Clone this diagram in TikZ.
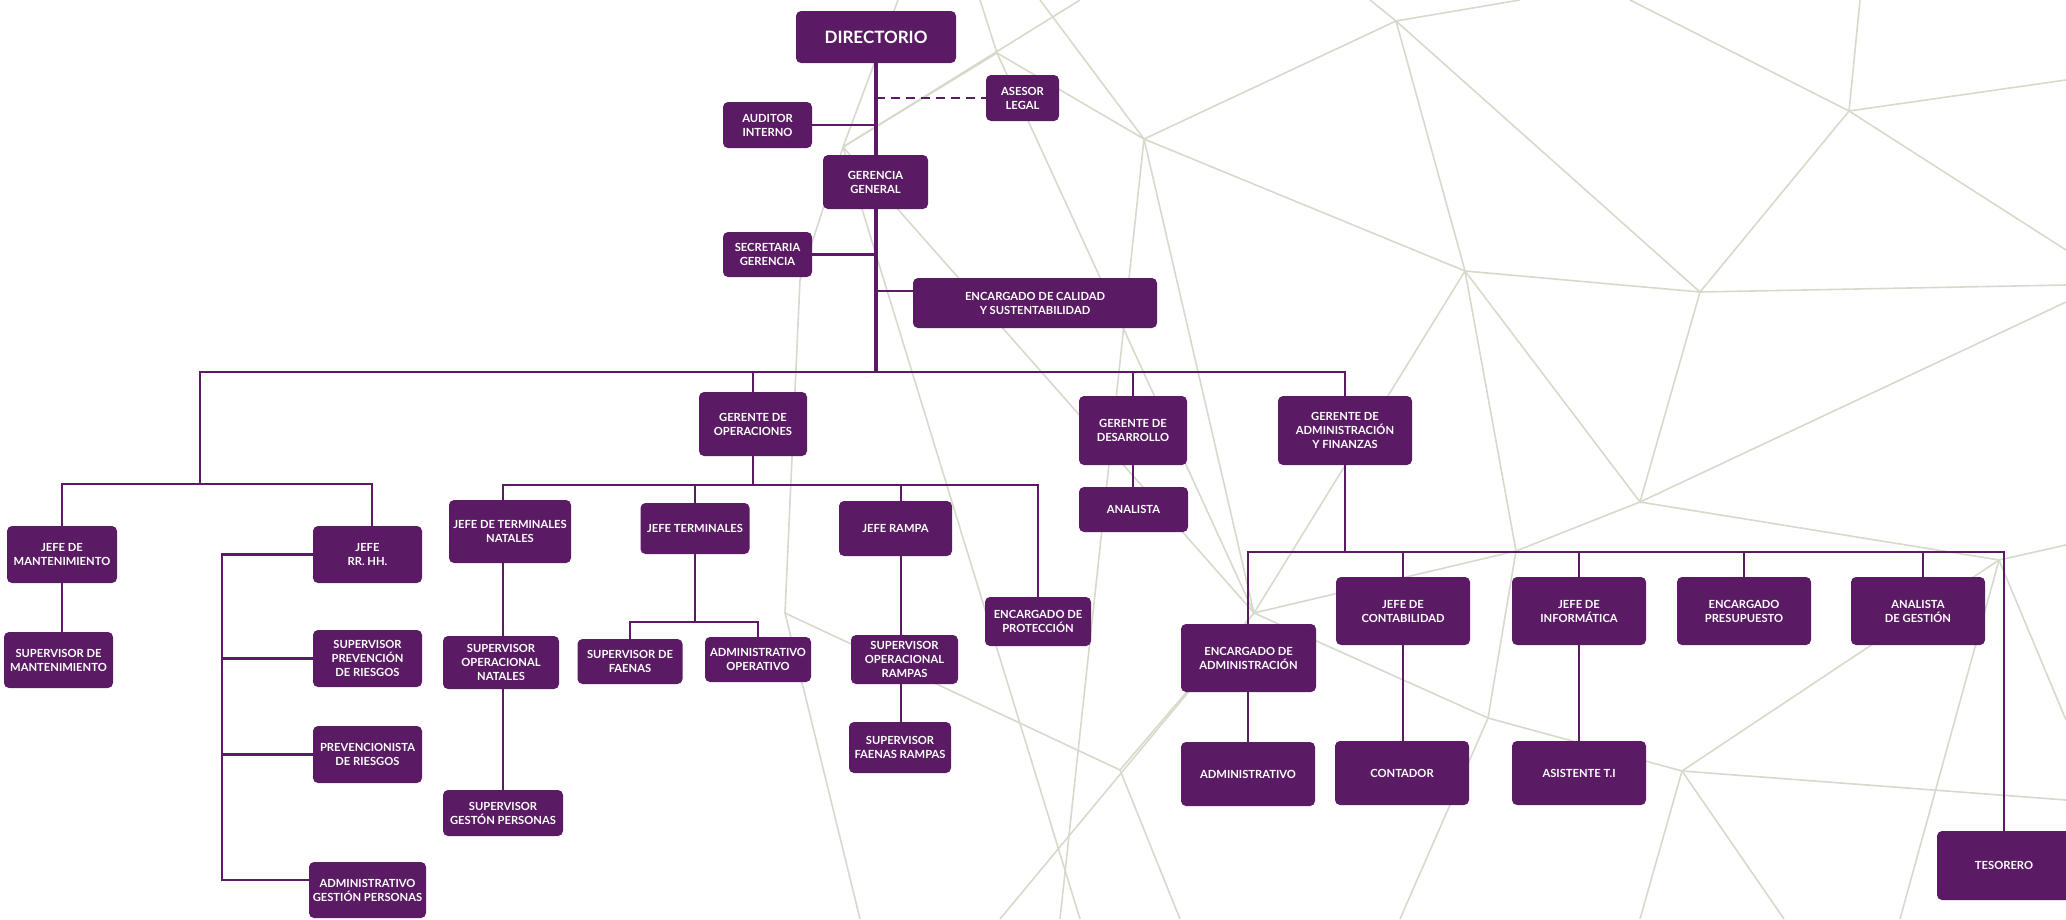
\documentclass[tikz,border=0pt]{standalone}
\usepackage{fontspec}
\setmainfont{Lato}
\definecolor{pur}{HTML}{5B1A64}
\definecolor{meshc}{HTML}{D5DACB}
\newcommand\bx[6]{\node[box, minimum width=#4pt, minimum height=#5pt] (#1) at (#2,#3) {#6};}
\begin{document}
\begin{tikzpicture}[x=1pt,y=-1pt,
  box/.style={fill=pur, rounded corners=5pt, text=white, align=center, inner sep=0pt,
    font=\fontsize{11.2}{14}\selectfont\bfseries},
  ln/.style={draw=pur, line width=2.7pt},
  lnt/.style={draw=pur, line width=3.4pt},
  lna/.style={draw=pur, line width=2.2pt},
  mesh/.style={draw=meshc, line width=1.6pt}]
\useasboundingbox (0,0) rectangle (2066,919);
% ---------- background mesh ----------
\coordinate (m1) at (843,147);
\coordinate (m2) at (997,53);
\coordinate (m3) at (785,613);
\coordinate (m4) at (1144,139);
\coordinate (m5) at (1396,21);
\coordinate (m6) at (1465,271);
\coordinate (m7) at (1700,292);
\coordinate (m8) at (1849,111);
\coordinate (m9) at (1640,502);
\coordinate (m10) at (1999,560);
\coordinate (m11) at (1254,613);
\coordinate (m12) at (1488,718);
\coordinate (m13) at (1682,771);
\coordinate (m14) at (1516,551);
\coordinate (m15) at (1120,770);
\draw[mesh] (m1) -- (m2) -- (m11);
\draw[mesh] (m1) -- (800,280) -- (m3) -- (860,919);
\draw[mesh] (m1) -- (898,0);
\draw[mesh] (m1) -- (1080,0);
\draw[mesh] (m1) -- (m11);
\draw[mesh] (m1) -- (1080,919);
\draw[mesh] (m2) -- (980,0);
\draw[mesh] (m2) -- (m4);
\draw[mesh] (m4) -- (m5) -- (m6) -- (m4) -- (m11);
\draw[mesh] (m4) -- (1040,0);
\draw[mesh] (m4) -- (1060,919);
\draw[mesh] (m5) -- (m7) -- (m6);
\draw[mesh] (m5) -- (1370,0);
\draw[mesh] (m5) -- (1520,0);
\draw[mesh] (m7) -- (m8) -- (2066,80);
\draw[mesh] (m8) -- (2066,250);
\draw[mesh] (m8) -- (1630,0);
\draw[mesh] (m8) -- (1860,0);
\draw[mesh] (m7) -- (2066,285);
\draw[mesh] (m6) -- (m9) -- (m7);
\draw[mesh] (m6) -- (m11) -- (m14) -- (m6);
\draw[mesh] (m9) -- (m10) -- (2066,545);
\draw[mesh] (m9) -- (m14) -- (m12) -- (m11);
\draw[mesh] (m9) -- (2066,302);
\draw[mesh] (m10) -- (2066,720);
\draw[mesh] (m10) -- (1900,919);
\draw[mesh] (m10) -- (m13);
\draw[mesh] (m12) -- (m13) -- (2066,800);
\draw[mesh] (m13) -- (1784,919);
\draw[mesh] (m13) -- (1640,919);
\draw[mesh] (m12) -- (1400,919);
\draw[mesh] (m11) -- (1000,919);
\draw[mesh] (m11) -- (m15);
\draw[mesh] (m3) -- (m15);
\draw[mesh] (m15) -- (1180,919);
% ---------- boxes ----------
\bx{dir}{876}{37}{160}{52}{\fontsize{17}{18}\selectfont DIRECTORIO}
\bx{ase}{1022.5}{98}{73}{46}{ASESOR\\LEGAL}
\bx{aud}{767.5}{125}{89}{46}{AUDITOR\\INTERNO}
\bx{gg}{875.5}{182}{105}{54}{GERENCIA\\GENERAL}
\bx{sec}{767.5}{254.5}{89}{45}{SECRETARIA\\GERENCIA}
\bx{cal}{1035}{303}{244}{50}{ENCARGADO DE CALIDAD\\Y SUSTENTABILIDAD}
\bx{gops}{753}{424}{108}{64}{GERENTE DE\\OPERACIONES}
\bx{gdes}{1133}{430.5}{108}{69}{GERENTE DE\\DESARROLLO}
\bx{ana}{1133.5}{509.5}{109}{45}{ANALISTA}
\bx{gadm}{1345}{430.5}{134}{69}{GERENTE DE\\ADMINISTRACIÓN\\Y FINANZAS}
\bx{jman}{62}{554.5}{110}{57}{JEFE DE\\MANTENIMIENTO}
\bx{smant}{58.5}{660}{109}{56}{SUPERVISOR DE\\MANTENIMIENTO}
\bx{jrh}{367.5}{554.5}{109}{57}{JEFE\\RR. HH.}
\bx{sprev}{367.5}{658.5}{109}{57}{SUPERVISOR\\PREVENCIÓN\\DE RIESGOS}
\bx{prev}{367.5}{754.5}{109}{57}{PREVENCIONISTA\\DE RIESGOS}
\bx{agp}{367.5}{890}{117}{56}{ADMINISTRATIVO\\GESTIÓN PERSONAS}
\bx{jtn}{510}{531.5}{122}{63}{JEFE DE TERMINALES\\NATALES}
\bx{sopn}{501}{662.5}{116}{53}{SUPERVISOR\\OPERACIONAL\\NATALES}
\bx{sgp}{503}{813}{120}{46}{SUPERVISOR\\GESTÓN PERSONAS}
\bx{jt}{695}{528.5}{109}{51}{JEFE TERMINALES}
\bx{sfa}{630}{661.5}{105}{45}{SUPERVISOR DE\\FAENAS}
\bx{aop}{758}{659.5}{106}{45}{ADMINISTRATIVO\\OPERATIVO}
\bx{jr}{895.5}{528.5}{113}{55}{JEFE RAMPA}
\bx{sor}{904.5}{659.5}{107}{49}{SUPERVISOR\\OPERACIONAL\\RAMPAS}
\bx{sfr}{900}{747.5}{102}{51}{SUPERVISOR\\FAENAS RAMPAS}
\bx{epro}{1038}{621.5}{106}{49}{ENCARGADO DE\\PROTECCIÓN}
\bx{eadm}{1248.5}{658}{135}{68}{ENCARGADO DE\\ADMINISTRACIÓN}
\bx{adm}{1248}{774}{134}{64}{ADMINISTRATIVO}
\bx{jcon}{1403}{611}{134}{68}{JEFE DE\\CONTABILIDAD}
\bx{cont}{1402}{773}{134}{64}{CONTADOR}
\bx{jinf}{1579}{611}{134}{68}{JEFE DE\\INFORMÁTICA}
\bx{ati}{1579}{773}{134}{64}{ASISTENTE T.I}
\bx{epre}{1744}{611}{134}{68}{ENCARGADO\\PRESUPUESTO}
\bx{agest}{1918}{611}{134}{68}{ANALISTA\\DE GESTIÓN}
\bx{tes}{2004}{865.5}{134}{69}{TESORERO}
% ---------- connectors ----------
\coordinate (tbL) at (200,372);
\coordinate (tbR) at (1345,372);
\coordinate (lb) at (200,484);
\coordinate (rv) at (222,880);
\coordinate (obL) at (503,485);
\coordinate (obR) at (1038,485);
\coordinate (jb) at (695,622);
\coordinate (abL) at (1248,552);
\coordinate (abR) at (2004,552);
\draw[lnt] (dir.south) -- (dir.south |- gg.north);
\draw[lnt] (gg.south -| dir.south) -- (dir.south |- tbL);
\draw[ln, dashed, dash pattern=on 9pt off 6pt] (dir.south |- ase.west) -- (ase.west);
\draw[ln] (aud.east) -- (aud.east -| dir.south);
\draw[ln] (sec.east) -- (sec.east -| dir.south);
\draw[ln] ([yshift=12pt]cal.west) -- ([yshift=12pt]cal.west -| dir.south);
% top bus
\draw[ln] (lb) -- (tbL) -- (tbR) -- (gadm.north);
\draw[ln] (gops.north) -- (gops.north |- tbL);
\draw[ln] (gdes.north) -- (gdes.north |- tbL);
% left branch
\draw[ln] (jman.north) |- (lb);
\draw[ln] ([xshift=4.5pt]jrh.north) |- (lb);
\draw[ln] (jman.south) -- (jman.south |- smant.north);
\draw[ln] (jrh.west) -| (rv) -- ([yshift=10pt]agp.west);
\draw[ln] (sprev.west) -- (sprev.west -| rv);
\draw[ln] (prev.west) -- (prev.west -| rv);
% operations
\draw[ln] (gops.south) -- (gops.south |- obL);
\draw[ln] ([xshift=-7pt]jtn.north) -- (obL) -- (obR) -- (epro.north);
\draw[ln] (jt.north) -- (jt.north |- obL);
\draw[ln] ([xshift=5.5pt]jr.north) -- ([xshift=5.5pt]jr.north |- obL);
\draw[ln] ([xshift=-7pt]jtn.south) -- ([xshift=-7pt]jtn.south |- sopn.north);
\draw[ln] ([xshift=2pt]sopn.south) -- ([xshift=2pt]sopn.south |- sgp.north);
\draw[ln] (jt.south) -- (jb);
\draw[ln] (sfa.north) |- (jb) -| (aop.north);
\draw[ln] ([xshift=5.5pt]jr.south) -- ([xshift=5.5pt]jr.south |- sor.north);
\draw[ln] ([xshift=5.5pt]jr.south |- sor.south) -- ([xshift=5.5pt]jr.south |- sfr.north);
% desarrollo
\draw[ln] (gdes.south) -- (ana.north -| gdes.south);
% administracion
\draw[lna] (gadm.south) -- (gadm.south |- abL);
\draw[lna] (eadm.north -| abL) -- (abL) -- (abR) -- (tes.north);
\draw[lna] (jcon.north) -- (jcon.north |- abL);
\draw[lna] (jinf.north) -- (jinf.north |- abL);
\draw[lna] (epre.north) -- (epre.north |- abL);
\draw[lna] ([xshift=5pt]agest.north) -- ([xshift=5pt]agest.north |- abL);
\draw[lna] (eadm.south -| abL) -- (adm.north -| abL);
\draw[lna] (jcon.south) -- (jcon.south |- cont.north);
\draw[lna] (jinf.south) -- (jinf.south |- ati.north);
\end{tikzpicture}
\end{document}
